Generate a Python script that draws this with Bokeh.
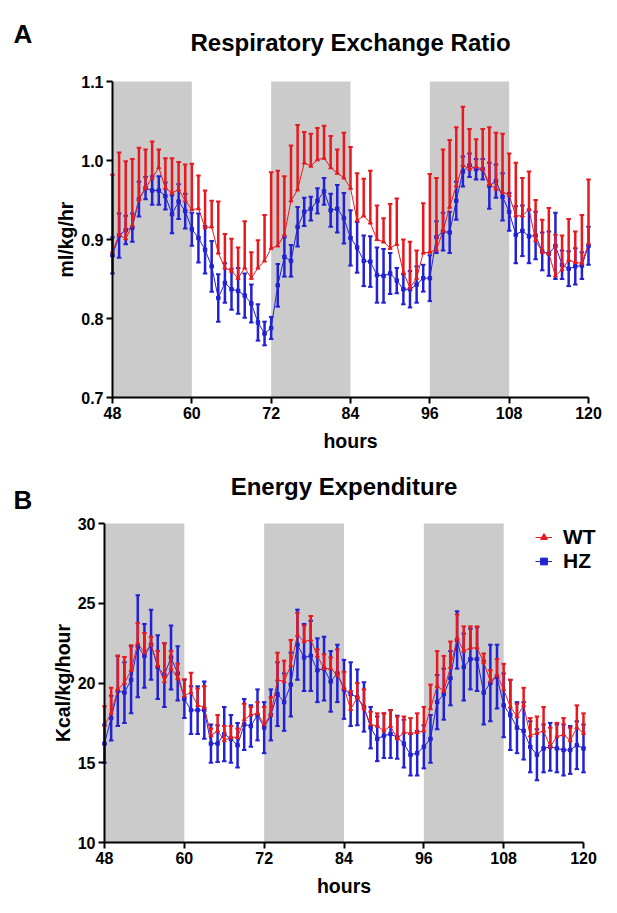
from bokeh.plotting import figure
from bokeh.models import (ColumnDataSource, BoxAnnotation, Label, Legend, LegendItem,
                          FixedTicker, PrintfTickFormatter)
from bokeh.embed import file_html
from bokeh.resources import INLINE

# ---------------- data ----------------
hours = [48, 49, 50, 51, 52, 53, 54, 55, 56, 57, 58, 59, 60, 61, 62, 63, 64, 65, 66, 67,
         68, 69, 70, 71, 72, 73, 74, 75, 76, 77, 78, 79, 80, 81, 82, 83, 84, 85, 86, 87,
         88, 89, 90, 91, 92, 93, 94, 95, 96, 97, 98, 99, 100, 101, 102, 103, 104, 105,
         106, 107, 108, 109, 110, 111, 112, 113, 114, 115, 116, 117, 118, 119, 120]
dark_phases = [(48, 60), (72, 84), (96, 108)]
x_ticks = [48, 60, 72, 84, 96, 108, 120]
rer_ticks = [0.7, 0.8, 0.9, 1.0, 1.1]
ee_ticks = [10, 15, 20, 25, 30]

rer_wt_mean = [0.885, 0.906, 0.901, 0.918, 0.951, 0.965, 0.978, 0.991, 0.965, 0.959,
               0.963, 0.949, 0.938, 0.939, 0.915, 0.916, 0.883, 0.864, 0.860, 0.851,
               0.864, 0.851, 0.864, 0.873, 0.889, 0.892, 0.906, 0.949, 0.963, 0.997,
               0.993, 1.001, 1.003, 0.991, 0.984, 0.978, 0.965, 0.924, 0.930, 0.921,
               0.900, 0.897, 0.889, 0.894, 0.858, 0.839, 0.851, 0.883, 0.884, 0.887,
               0.911, 0.941, 0.968, 0.994, 0.989, 0.992, 0.989, 0.970, 0.964, 0.960,
               0.956, 0.930, 0.930, 0.938, 0.899, 0.884, 0.882, 0.854, 0.862, 0.874,
               0.871, 0.870, 0.895]
rer_wt_sem = [0.097, 0.104, 0.098, 0.084, 0.065, 0.049, 0.046, 0.023, 0.038, 0.044,
              0.035, 0.046, 0.058, 0.042, 0.047, 0.033, 0.065, 0.043, 0.041, 0.039,
              0.059, 0.033, 0.035, 0.058, 0.096, 0.095, 0.074, 0.070, 0.082, 0.039,
              0.041, 0.040, 0.041, 0.040, 0.030, 0.057, 0.052, 0.060, 0.047, 0.066,
              0.043, 0.030, 0.056, 0.058, 0.042, 0.058, 0.035, 0.063, 0.099, 0.091,
              0.103, 0.085, 0.074, 0.074, 0.051, 0.035, 0.051, 0.072, 0.071, 0.074,
              0.053, 0.067, 0.048, 0.048, 0.051, 0.041, 0.058, 0.052, 0.043, 0.052,
              0.039, 0.061, 0.081]
rer_hz_mean = [0.880, 0.905, 0.912, 0.915, 0.951, 0.965, 0.962, 0.962, 0.955, 0.932,
               0.948, 0.936, 0.913, 0.902, 0.887, 0.866, 0.826, 0.845, 0.837, 0.835,
               0.829, 0.819, 0.795, 0.781, 0.788, 0.842, 0.878, 0.873, 0.916, 0.935,
               0.939, 0.949, 0.961, 0.937, 0.939, 0.927, 0.902, 0.890, 0.873, 0.872,
               0.855, 0.854, 0.857, 0.848, 0.837, 0.837, 0.843, 0.851, 0.851, 0.903,
               0.910, 0.909, 0.949, 0.986, 0.994, 0.989, 0.989, 0.968, 0.974, 0.954,
               0.935, 0.906, 0.911, 0.904, 0.905, 0.885, 0.882, 0.892, 0.868, 0.863,
               0.866, 0.867, 0.892]
rer_hz_sem = [0.023, 0.028, 0.018, 0.018, 0.022, 0.014, 0.018, 0.018, 0.017, 0.024,
              0.022, 0.022, 0.021, 0.031, 0.030, 0.032, 0.030, 0.025, 0.026, 0.029,
              0.028, 0.024, 0.023, 0.015, 0.014, 0.027, 0.025, 0.020, 0.025, 0.018,
              0.015, 0.016, 0.017, 0.021, 0.030, 0.032, 0.035, 0.032, 0.032, 0.032,
              0.035, 0.034, 0.026, 0.016, 0.019, 0.023, 0.023, 0.017, 0.029, 0.020,
              0.024, 0.026, 0.024, 0.019, 0.015, 0.013, 0.013, 0.029, 0.021, 0.030,
              0.024, 0.036, 0.032, 0.034, 0.030, 0.024, 0.028, 0.042, 0.018, 0.022,
              0.023, 0.017, 0.024]

ee_wt_mean = [17.35, 18.1, 19.6, 20.0, 20.8, 22.5, 21.9, 22.4, 21.1, 20.1,
              20.9, 20.3, 19.2, 19.4, 18.6, 18.5, 16.7, 17.0, 16.4, 16.6,
              16.6, 17.7, 18.0, 18.1, 17.4, 18.0, 20.2, 20.1, 21.1, 23.0,
              22.6, 22.7, 21.7, 20.9, 20.9, 20.5, 19.7, 18.35, 19.1, 18.4,
              17.4, 17.3, 17.0, 17.3, 16.5, 16.9, 16.85, 16.9, 17.0, 18.4,
              19.8, 19.5, 21.0, 22.8, 22.0, 22.2, 22.2, 21.3, 20.1, 20.5,
              19.6, 18.5, 17.9, 18.6, 16.7, 16.85, 17.0, 16.0, 16.65, 16.75,
              16.4, 17.2, 16.85]
ee_wt_sem = [1.19, 1.61, 2.13, 1.63, 1.56, 1.26, 1.23, 0.5, 0.9, 2.4,
             1.1, 0.9, 1.04, 1.25, 1.05, 1.3, 0.45, 1.0, 0.9, 0.7,
             0.55, 1.0, 0.5, 0.7, 1.1, 1.1, 1.7, 1.3, 1.6, 1.4,
             1.0, 1.5, 0.4, 0.9, 0.7, 1.6, 1.0, 1.15, 0.9, 1.2,
             0.8, 0.8, 1.1, 1.0, 1.4, 1.0, 0.95, 1.2, 1.5, 1.5,
             2.2, 2.2, 1.6, 1.5, 1.55, 1.35, 1.35, 0.55, 0.7, 1.0,
             1.6, 1.7, 0.8, 1.1, 1.1, 1.05, 1.5, 1.2, 0.85, 1.05,
             0.8, 1.4, 1.25]
ee_hz_mean = [16.2, 17.8, 19.5, 19.4, 20.2, 22.3, 21.7, 22.4, 21.0, 20.5,
              21.6, 20.6, 19.0, 18.3, 18.3, 18.3, 16.2, 16.2, 16.8, 16.5,
              16.1, 17.4, 17.3, 18.0, 17.2, 18.0, 19.3, 18.8, 19.9, 22.4,
              21.6, 21.7, 20.8, 20.9, 20.1, 20.6, 19.6, 19.3, 19.1, 18.5,
              17.2, 16.5, 16.7, 16.8, 16.6, 16.2, 15.5, 15.6, 16.0, 16.5,
              18.8, 19.3, 20.3, 22.7, 21.0, 21.5, 21.5, 19.4, 20.0, 20.4,
              18.6, 18.0, 17.2, 17.0, 16.0, 15.5, 15.9, 16.0, 15.9, 15.8,
              15.8, 16.1, 15.9]
ee_hz_sem = [1.2, 1.4, 2.2, 1.9, 2.1, 3.2, 2.0, 2.2, 2.0, 2.0,
             2.0, 1.7, 1.2, 1.5, 1.5, 1.8, 1.2, 1.15, 1.7, 1.5,
             1.4, 1.6, 1.3, 1.6, 1.6, 1.6, 2.0, 1.8, 2.0, 2.2,
             2.1, 2.2, 2.0, 2.0, 1.9, 1.8, 1.85, 2.0, 1.75, 1.55,
             1.3, 1.4, 1.4, 1.5, 1.35, 1.5, 1.3, 1.4, 1.35, 1.5,
             1.7, 1.6, 1.7, 1.8, 2.1, 1.9, 2.0, 2.0, 2.4, 2.0,
             2.0, 2.2, 1.6, 1.8, 1.6, 1.6, 1.5, 1.5, 1.5, 1.6,
             1.5, 1.5, 1.5]

# ---------------- style ----------------
FONT = "Liberation Sans"
RED = "#e8181e"
BLUE = "#2222d4"
GREY = "#cbcbcb"
W = 604
TEXT_LIFT = 9   # correction between measured baseline and rendered baseline


def panel(fig_top, height, x48, x120, y_top, y_bot, yv, yticks, fmt,
          ylabel, title, letter, title_base, letter_base, wt, wt_sem, hz, hz_sem,
          ylab_standoff, legend=False):
    """Geometry in page pixels. The frame covers the whole figure; the axes are
    pinned at the data limits, so every text can be placed in data units."""
    h0, h1 = hours[0], hours[-1]
    kx = (x120 - x48) / (h1 - h0)
    ymin, ymax = yv
    ky = (y_bot - y_top) / (ymax - ymin)
    fig_bot = fig_top + height

    def dx(px):
        return h0 + (px - x48) / kx

    def dy(py):
        return ymin + (y_bot - py) / ky

    p = figure(width=W, height=height, x_range=(dx(0), dx(W)),
               y_range=(dy(fig_bot), dy(fig_top)),
               output_backend="svg", toolbar_location=None, title=None,
               min_border=0, min_border_left=0, min_border_right=0,
               min_border_top=0, min_border_bottom=0)
    p.outline_line_color = None
    p.xgrid.grid_line_color = None
    p.ygrid.grid_line_color = None
    p.background_fill_color = "white"

    for a, b in dark_phases:
        p.add_layout(BoxAnnotation(left=a, right=b, bottom=ymin, top=ymax,
                                   fill_color=GREY, fill_alpha=1.0,
                                   line_alpha=0, level="underlay"))

    for ax in (p.xaxis[0], p.yaxis[0]):
        ax.axis_line_width = 2
        ax.axis_line_color = "black"
        ax.major_tick_line_width = 2
        ax.major_tick_out = 6
        ax.major_tick_in = 0
        ax.minor_tick_out = 0
        ax.minor_tick_in = 0
        ax.major_label_text_font = FONT
        ax.major_label_text_font_style = "bold"
        ax.major_label_text_font_size = "16px"
        ax.major_label_text_color = "black"
        ax.axis_label_text_font = FONT
        ax.axis_label_text_font_style = "bold"
        ax.axis_label_text_font_size = "19.5px"
        ax.axis_label_text_color = "black"
    p.xaxis.ticker = FixedTicker(ticks=x_ticks)
    p.xaxis.bounds = (h0, h1)
    p.xaxis.fixed_location = ymin
    p.yaxis.ticker = FixedTicker(ticks=yticks)
    p.yaxis.bounds = (ymin, ymax)
    p.yaxis.fixed_location = h0
    p.yaxis.formatter = PrintfTickFormatter(format=fmt)
    p.xaxis.axis_label = "hours"
    p.yaxis.axis_label = ylabel
    p.xaxis.major_label_standoff = 3
    p.yaxis.major_label_standoff = 3
    p.xaxis.axis_label_standoff = 8
    p.yaxis.axis_label_standoff = ylab_standoff

    def series(mean, sem, color, marker, both, msize):
        up = [m + s for m, s in zip(mean, sem)]
        lo = [m - s for m, s in zip(mean, sem)] if both else list(mean)
        src = ColumnDataSource(dict(h=hours, m=mean, up=up, lo=lo))
        p.segment(x0="h", y0="lo", x1="h", y1="up", source=src, line_color=color,
                  line_width=2.5)
        p.scatter(x="h", y="up", source=src, marker="dash", size=4.5, line_color=color,
                  line_width=2)
        if both:
            p.scatter(x="h", y="lo", source=src, marker="dash", size=4.5,
                      line_color=color, line_width=2)
        ln = p.line(x="h", y="m", source=src, line_color=color, line_width=1)
        sc = p.scatter(x="h", y="m", source=src, marker=marker, size=msize,
                       fill_color=color, line_color=color)
        return ln, sc

    hz_r = series(hz, hz_sem, BLUE, "square", True, 3.5)
    wt_r = series(wt, wt_sem, RED, "triangle", False, 4)

    p.add_layout(Label(x=(h0 + h1) / 2, y=dy(title_base - TEXT_LIFT), text=title,
                       text_font=FONT, text_font_style="bold", text_font_size="24px",
                       text_align="center", text_baseline="alphabetic",
                       text_color="black"))
    p.add_layout(Label(x=dx(13), y=dy(letter_base - TEXT_LIFT), text=letter,
                       text_font=FONT, text_font_style="bold", text_font_size="26px",
                       text_align="left", text_baseline="alphabetic",
                       text_color="black"))

    if legend:
        lg = Legend(items=[LegendItem(label="WT", renderers=list(wt_r)),
                           LegendItem(label="HZ", renderers=list(hz_r))],
                    location=(535, fig_bot - (529 + 44)),
                    orientation="vertical",
                    label_text_font=FONT, label_text_font_style="bold",
                    label_text_font_size="21px", label_text_color="black",
                    glyph_width=17, glyph_height=22, label_height=22,
                    label_standoff=11, spacing=0, padding=0, margin=0,
                    background_fill_alpha=0, border_line_alpha=0)
        p.add_layout(lg, "center")
    return p


p1 = panel(0, 462, 112, 588, 81, 397, (0.7, 1.1), rer_ticks, "%.1f",
           "ml/kg/hr", "Respiratory Exchange Ratio", "A", 51, 42,
           rer_wt_mean, rer_wt_sem, rer_hz_mean, rer_hz_sem, 1)
p2 = panel(462, 443, 104, 583, 523, 842, (10, 30), ee_ticks, "%d",
           "Kcal/kg/hour", "Energy Expenditure", "B", 495, 508,
           ee_wt_mean, ee_wt_sem, ee_hz_mean, ee_hz_sem, 1, legend=True)

open("out.html", "w").write(file_html([p1, p2], INLINE))
